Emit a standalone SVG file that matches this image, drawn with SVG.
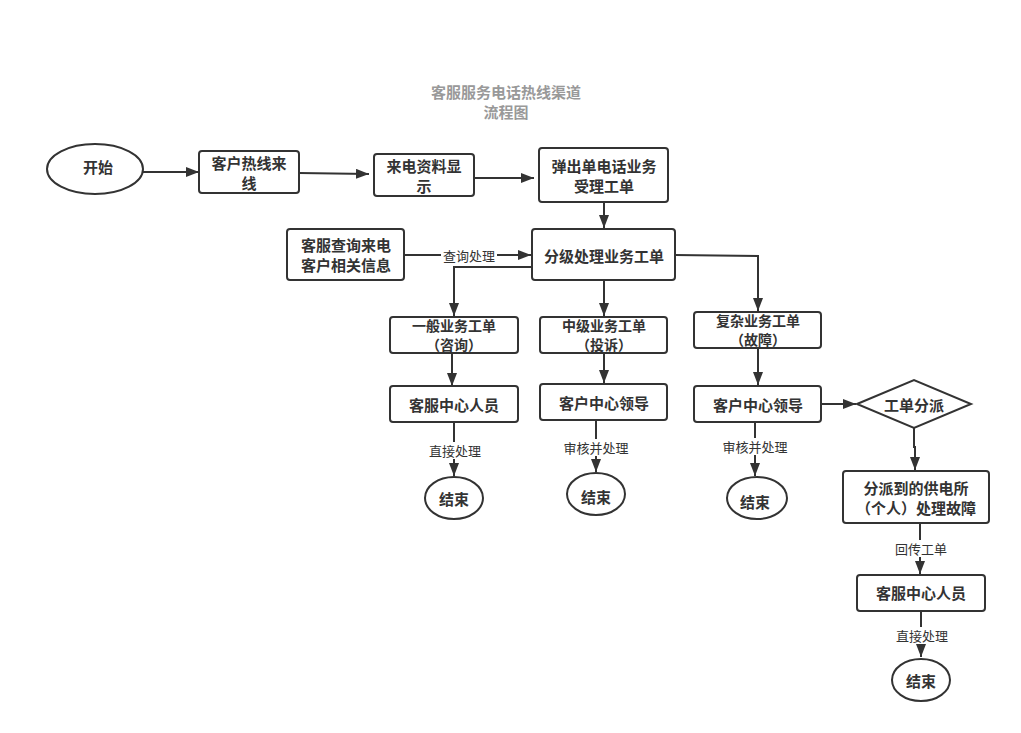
<svg xmlns="http://www.w3.org/2000/svg" width="1021" height="733" viewBox="0 0 1021 733">
<style>
.n{fill:#fff;stroke:#333;stroke-width:2}
.t{font-family:"Noto Sans CJK SC","Noto Sans",sans-serif;font-size:15px;font-weight:bold;fill:#333;text-anchor:middle;dominant-baseline:central}
.s{font-size:14px}
.l{font-family:"Noto Sans CJK SC","Noto Sans",sans-serif;font-size:13px;fill:#333;text-anchor:middle;dominant-baseline:central}
.c{fill:none;stroke:#333;stroke-width:2}
.ttl{font-family:"Noto Sans CJK SC","Noto Sans",sans-serif;font-size:15px;font-weight:bold;fill:#999;text-anchor:middle;dominant-baseline:central}
</style>
<defs>
<marker id="a" markerUnits="userSpaceOnUse" markerWidth="14" markerHeight="10" refX="13" refY="5" orient="auto">
<path d="M0,0 L13,5 L0,10 Z" fill="#333"/>
</marker>
</defs>
<rect width="1021" height="733" fill="#fff"/>
<g id="title">
<text class="ttl" x="506" y="91">客服服务电话热线渠道</text>
<text class="ttl" x="506" y="111">流程图</text>
</g>
<g id="connectors">
<path class="c" d="M143,172 L199,172" marker-end="url(#a)"/>
<path class="c" d="M299,173 L369,174" marker-end="url(#a)"/>
<path class="c" d="M474,178 L534,178" marker-end="url(#a)"/>
<path class="c" d="M604,202 L604,228" marker-end="url(#a)"/>
<path class="c" d="M404,255 L531,255" marker-end="url(#a)"/>
<rect x="441" y="247" width="56" height="17" fill="#fff"/>
<text class="l" x="469" y="255">查询处理</text>
<path class="c" d="M532,267 L454,267 L454,316" marker-end="url(#a)"/>
<path class="c" d="M604,280 L604,316" marker-end="url(#a)"/>
<path class="c" d="M675,255 L758,256 L758,311" marker-end="url(#a)"/>
<path class="c" d="M452,353 L452,386" marker-end="url(#a)"/>
<path class="c" d="M604,353 L604,383" marker-end="url(#a)"/>
<path class="c" d="M758,348 L758,385" marker-end="url(#a)"/>
<path class="c" d="M454,422 L454,476" marker-end="url(#a)"/>
<rect x="427" y="442" width="56" height="17" fill="#fff"/>
<text class="l" x="455" y="450">直接处理</text>
<path class="c" d="M596,420 L596,472" marker-end="url(#a)"/>
<rect x="561" y="439" width="70" height="17" fill="#fff"/>
<text class="l" x="596" y="447">审核并处理</text>
<path class="c" d="M755,422 L755,476" marker-end="url(#a)"/>
<rect x="720" y="438" width="70" height="17" fill="#fff"/>
<text class="l" x="755" y="446">审核并处理</text>
<path class="c" d="M821,404 L856,404" marker-end="url(#a)"/>
<path class="c" d="M914,428 L914,447 L915,447 L915,470" marker-end="url(#a)"/>
<path class="c" d="M920,523 L920,574" marker-end="url(#a)"/>
<rect x="892" y="540" width="58" height="17" fill="#fff"/>
<text class="l" x="921" y="548">回传工单</text>
<path class="c" d="M921,611 L921,657" marker-end="url(#a)"/>
<rect x="893" y="627" width="58" height="17" fill="#fff"/>
<text class="l" x="922" y="635">直接处理</text>
</g>
<g id="start"><ellipse class="n" cx="95" cy="169" rx="48" ry="25"/><text class="t" x="98" y="166">开始</text></g>
<g id="n1"><rect class="n" x="199" y="151" width="100" height="42" rx="3"/><text class="t" x="249" y="162">客户热线来</text><text class="t" x="249" y="182">线</text></g>
<g id="n2"><rect class="n" x="374" y="154" width="100" height="42" rx="3"/><text class="t" x="424" y="165">来电资料显</text><text class="t" x="424" y="185">示</text></g>
<g id="n3"><rect class="n" x="539" y="148" width="129" height="54" rx="3"/><text class="t" x="604" y="165">弹出单电话业务</text><text class="t" x="604" y="185">受理工单</text></g>
<g id="n4"><rect class="n" x="532" y="229" width="143" height="51" rx="3"/><text class="t" x="604" y="255">分级处理业务工单</text></g>
<g id="n5"><rect class="n" x="287" y="229" width="117" height="51" rx="3"/><text class="t" x="346" y="244">客服查询来电</text><text class="t" x="346" y="264">客户相关信息</text></g>
<g id="n6"><rect class="n" x="390" y="317" width="128" height="36" rx="3"/><text class="t s" x="454" y="325">一般业务工单</text><text class="t s" x="454" y="344">（咨询）</text></g>
<g id="n7"><rect class="n" x="540" y="317" width="127" height="36" rx="3"/><text class="t s" x="604" y="325">中级业务工单</text><text class="t s" x="604" y="344">（投诉）</text></g>
<g id="n8"><rect class="n" x="694" y="312" width="127" height="36" rx="3"/><text class="t s" x="758" y="320">复杂业务工单</text><text class="t s" x="758" y="339">（故障）</text></g>
<g id="n9"><rect class="n" x="390" y="386" width="128" height="36" rx="3"/><text class="t" x="454" y="404">客服中心人员</text></g>
<g id="n10"><rect class="n" x="540" y="384" width="127" height="36" rx="3"/><text class="t" x="604" y="402">客户中心领导</text></g>
<g id="n11"><rect class="n" x="694" y="386" width="127" height="36" rx="3"/><text class="t" x="758" y="404">客户中心领导</text></g>
<g id="n12"><path class="n" d="M857,404 L914,380 L971,404 L914,428 Z"/><text class="t" x="914" y="404">工单分派</text></g>
<g id="n13"><rect class="n" x="843" y="471" width="146" height="52" rx="3"/><text class="t" x="916" y="487">分派到的供电所</text><text class="t" x="916" y="507">（个人）处理故障</text></g>
<g id="n14"><rect class="n" x="857" y="575" width="128" height="36" rx="3"/><text class="t" x="921" y="592">客服中心人员</text></g>
<g id="e1"><ellipse class="n" cx="454" cy="498" rx="29" ry="21"/><text class="t" x="454" y="498">结束</text></g>
<g id="e2"><ellipse class="n" cx="596" cy="494" rx="29" ry="21"/><text class="t" x="596" y="496">结束</text></g>
<g id="e3"><ellipse class="n" cx="757" cy="498" rx="30" ry="21"/><text class="t" x="755" y="501">结束</text></g>
<g id="e4"><ellipse class="n" cx="921" cy="680" rx="29" ry="21"/><text class="t" x="921" y="680">结束</text></g>
</svg>
